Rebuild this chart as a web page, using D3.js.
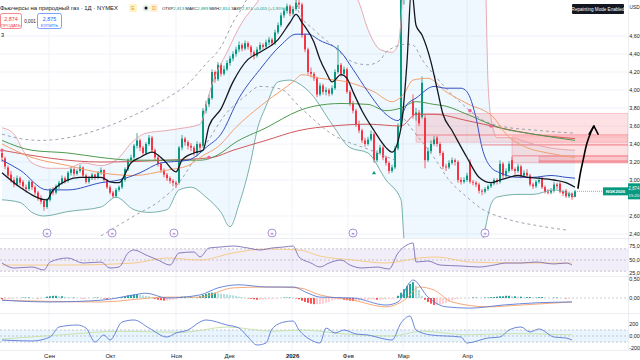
<!DOCTYPE html>
<html><head><meta charset="utf-8">
<script src="https://cdn.jsdelivr.net/npm/d3@7"></script>
<style>body{margin:0;background:#fff;overflow:hidden}svg{display:block;font-family:"Liberation Sans",Arial,sans-serif}</style>
</head><body><svg id="c" width="640" height="360"></svg>
<script>
// ---------- DATA ----------
const open=[3.30,3.24,3.14,3.06,3.00,2.95,3.02,2.98,2.92,2.90,
2.98,2.92,2.86,2.80,2.77,2.70,2.78,2.89,2.86,2.93,
2.97,3.02,2.99,3.08,3.12,3.07,3.10,3.14,3.05,2.98,
3.02,3.06,3.03,3.08,3.11,3.00,2.92,2.86,2.82,2.89,
2.92,3.00,3.12,3.22,3.25,3.38,3.44,3.36,3.30,3.40,
3.47,3.33,3.25,3.18,3.11,3.06,3.02,2.99,2.97,2.97,
3.36,3.46,3.42,3.38,3.36,3.30,3.40,3.38,3.77,3.84,
3.91,4.20,4.12,4.28,4.18,4.23,4.30,4.35,4.40,4.45,
4.50,4.46,4.52,4.48,4.42,4.38,4.45,4.50,4.48,4.53,
4.56,4.52,4.64,4.72,4.83,4.88,4.93,4.85,4.90,4.97,
4.95,4.61,4.45,4.20,4.18,4.13,3.95,4.05,3.98,4.00,
3.96,4.02,4.20,4.28,4.18,4.23,3.98,3.85,3.77,3.62,
3.55,3.44,3.40,3.45,3.51,3.22,3.30,3.36,3.25,3.19,
3.10,3.14,3.35,3.60,5.10,5.40,5.55,3.88,3.72,3.75,
3.70,3.69,3.22,3.32,3.40,3.47,3.40,3.30,3.15,3.14,
3.19,3.22,3.20,3.00,2.98,3.00,3.20,2.98,2.97,2.95,
2.88,2.87,2.90,2.93,2.96,3.00,2.98,3.18,3.05,3.10,
3.22,3.12,3.10,3.15,3.05,3.08,3.05,2.95,2.93,2.98,
3.02,2.92,2.87,2.86,2.88,2.95,2.96,2.87,2.88,2.82,
2.85,2.813];
const high=[3.33,3.26,3.16,3.10,3.03,3.05,3.04,3.00,2.95,3.00,
2.99,2.94,2.88,2.83,2.79,2.80,2.91,2.92,2.95,2.99,
3.05,3.04,3.10,3.15,3.14,3.12,3.17,3.15,3.07,3.04,
3.08,3.07,3.10,3.14,3.12,3.01,2.94,2.88,2.91,2.94,
3.02,3.14,3.24,3.28,3.40,3.52,3.46,3.38,3.42,3.50,
3.49,3.35,3.27,3.20,3.13,3.08,3.04,3.01,2.99,3.38,
3.50,3.48,3.44,3.41,3.38,3.43,3.42,3.80,3.88,3.95,
4.23,4.22,4.31,4.30,4.27,4.33,4.38,4.43,4.48,4.54,
4.52,4.55,4.54,4.50,4.44,4.48,4.53,4.52,4.56,4.59,
4.58,4.67,4.75,4.86,4.91,4.96,4.95,4.93,5.05,5.02,
4.97,4.63,4.47,4.25,4.20,4.15,4.08,4.07,4.03,4.02,
4.05,4.23,4.50,4.30,4.26,4.25,4.00,3.88,3.79,3.66,
3.57,3.47,3.48,3.55,3.53,3.33,3.39,3.38,3.27,3.21,
3.17,3.38,3.63,5.30,5.70,5.90,5.65,3.95,3.80,3.78,
4.15,3.72,3.36,3.44,3.49,3.49,3.42,3.32,3.18,3.22,
3.25,3.24,3.22,3.03,3.03,3.08,3.23,3.00,2.99,2.97,
2.90,2.92,2.95,2.98,3.02,3.02,3.22,3.20,3.13,3.21,
3.26,3.14,3.18,3.17,3.11,3.12,3.07,2.97,3.00,3.03,
3.04,2.94,2.90,2.91,2.98,2.97,2.98,2.89,2.90,2.87,
2.86,2.889];
const low=[3.20,3.12,3.02,2.97,2.92,2.93,2.94,2.90,2.86,2.88,
2.89,2.83,2.77,2.73,2.66,2.68,2.76,2.83,2.84,2.90,
2.95,2.96,2.97,3.05,3.04,3.05,3.08,3.03,2.96,2.96,
3.00,3.00,3.01,3.06,2.98,2.90,2.84,2.80,2.80,2.87,
2.90,2.98,3.10,3.18,3.23,3.35,3.32,3.27,3.28,3.38,
3.30,3.22,3.15,3.08,3.03,2.99,2.96,2.93,2.91,2.95,
3.33,3.38,3.34,3.32,3.27,3.28,3.33,3.36,3.74,3.81,
3.89,4.08,4.10,4.15,4.16,4.21,4.27,4.32,4.37,4.42,
4.43,4.44,4.45,4.38,4.34,4.36,4.43,4.45,4.46,4.50,
4.49,4.50,4.62,4.70,4.80,4.85,4.82,4.83,4.88,4.90,
4.58,4.42,4.17,4.14,4.10,3.92,3.93,3.95,3.94,3.93,
3.94,4.00,4.18,4.15,4.16,3.96,3.82,3.74,3.59,3.52,
3.41,3.37,3.38,3.43,3.19,3.20,3.28,3.22,3.16,3.07,
3.08,3.12,3.33,3.58,4.95,5.30,5.10,3.68,3.66,3.60,
3.68,3.13,3.20,3.30,3.38,3.37,3.27,3.12,3.10,3.12,
3.17,3.16,2.97,2.95,2.96,2.98,2.96,2.94,2.92,2.85,
2.83,2.85,2.88,2.91,2.94,2.95,2.96,3.02,3.03,3.08,
3.10,3.06,3.08,3.02,3.03,3.02,2.93,2.90,2.91,2.96,
2.90,2.85,2.84,2.84,2.86,2.90,2.85,2.82,2.80,2.80,
2.78,2.810];
const close=[3.25,3.15,3.05,3.00,2.95,3.02,2.97,2.93,2.90,2.98,
2.92,2.86,2.80,2.76,2.70,2.78,2.89,2.86,2.93,2.97,
3.02,2.99,3.08,3.12,3.07,3.10,3.14,3.05,2.98,3.02,
3.06,3.03,3.08,3.11,3.00,2.92,2.86,2.82,2.89,2.92,
3.00,3.12,3.22,3.25,3.38,3.44,3.36,3.30,3.40,3.47,
3.33,3.25,3.18,3.11,3.06,3.02,2.99,2.97,2.95,3.36,
3.46,3.42,3.38,3.36,3.30,3.40,3.36,3.77,3.84,3.91,
4.20,4.12,4.28,4.18,4.23,4.30,4.35,4.40,4.45,4.50,
4.46,4.52,4.48,4.42,4.38,4.45,4.50,4.48,4.53,4.56,
4.52,4.64,4.72,4.83,4.88,4.93,4.85,4.90,4.97,4.95,
4.61,4.45,4.20,4.18,4.13,3.95,4.05,3.98,4.00,3.96,
4.02,4.20,4.28,4.18,4.23,3.98,3.85,3.77,3.62,3.55,
3.44,3.40,3.45,3.51,3.22,3.30,3.36,3.25,3.19,3.10,
3.14,3.35,3.60,5.10,5.40,5.60,5.20,3.72,3.75,3.63,
4.08,3.22,3.32,3.40,3.45,3.40,3.30,3.15,3.14,3.19,
3.22,3.20,3.00,2.98,3.00,3.05,2.98,2.97,2.95,2.88,
2.87,2.90,2.93,2.96,3.00,2.98,3.18,3.05,3.10,3.18,
3.12,3.10,3.15,3.05,3.08,3.05,2.95,2.93,2.98,3.00,
2.92,2.87,2.86,2.88,2.95,2.93,2.87,2.85,2.82,2.85,
2.81,2.874];

// indicator lines: [bar index, value]
const maFast=[[0,3.08],[6,2.92],[15,2.78],[17,2.89],[26,3.03],[33,3.03],[36,2.98],[39,2.97],[43,3.19],[46,3.25],[50,3.31],[54,3.22],[58,3.09],[60,3.22],[64,3.30],[67,3.33],[69,3.60],[73,3.79],[77,4.09],[82,4.34],[86,4.42],[92,4.56],[96,4.75],[98,4.84],[100,4.75],[104,4.53],[106,4.34],[108,4.20],[110,4.09],[113,4.17],[115,4.13],[117,3.98],[120,3.77],[124,3.55],[128,3.36],[130,3.31],[133,3.58],[135,4.31],[136.5,5.13],[138,4.72],[140,4.61],[143,4.31],[145,4.02],[147,3.73],[150,3.55],[155,3.25],[159,3.03],[163,2.97],[166,3.00],[169,3.03],[172,3.05],[175,3.03],[179,3.02],[184,3.00],[188,2.97],[191,2.92]];
const ma20=[[0,3.22],[6,3.11],[15,2.89],[22,2.89],[33,2.97],[39,3.00],[46,3.08],[53,3.19],[62,3.22],[66,3.30],[68,3.36],[73,3.51],[79,3.91],[86,4.23],[93,4.50],[98,4.62],[102,4.62],[106,4.55],[113,4.42],[117,4.23],[122,3.98],[128,3.73],[132,3.66],[135,3.84],[138,3.91],[144,4.04],[148,4.02],[153,4.02],[155,3.98],[158,3.69],[160,3.36],[163,3.14],[166,3.08],[172,3.03],[177,3.03],[183,3.05],[188,3.03],[191,3.02]];
const ma50=[[0,3.40],[10,3.25],[22,3.16],[33,3.08],[44,3.05],[55,3.11],[62,3.16],[66,3.25],[73,3.40],[77,3.55],[88,3.87],[97,4.09],[100,4.17],[106,4.13],[115,4.09],[124,3.98],[130,3.87],[134,3.96],[137,4.11],[142,4.13],[148,3.98],[155,3.85],[164,3.69],[168,3.51],[175,3.36],[182,3.30],[191,3.25]];
const ma100=[[0,3.44],[10,3.33],[22,3.30],[33,3.25],[44,3.22],[55,3.22],[66,3.22],[73,3.30],[77,3.40],[88,3.58],[99,3.77],[104,3.82],[113,3.85],[122,3.84],[128,3.77],[133,3.80],[138,3.87],[144,3.84],[148,3.82],[155,3.73],[166,3.58],[177,3.51],[191,3.44]];
const ma200=[[0,3.33],[33,3.20],[55,3.22],[70,3.25],[77,3.33],[88,3.44],[99,3.55],[110,3.60],[122,3.62],[133,3.60],[138,3.73],[144,3.73],[155,3.66],[166,3.58],[177,3.51],[191,3.46]];
const bbUpper=[[0,3.58],[4,3.51],[7,3.33],[10,3.19],[16,3.13],[22,3.13],[27,3.19],[33,3.16],[38,3.22],[44,3.44],[48,3.52],[55,3.55],[59,3.57],[66,3.62],[69,3.95],[70,4.06],[75,4.42],[80,4.75],[85,4.97],[93,5.40],[106,5.45],[116,5.13],[119,4.97],[122,4.67],[126,4.45],[130,4.42],[132,4.50],[133,4.78],[134,5.40],[139,7.2],[153,7.0],[160,6.0],[161,5.5],[162,4.09],[163,3.69],[165,3.47],[169,3.47],[177,3.40],[182,3.36],[191,3.33]];
const bbLower=[[0,2.78],[6,2.75],[10,2.64],[14,2.60],[22,2.65],[33,2.70],[38,2.81],[44,2.67],[49,2.64],[55,2.67],[59,2.89],[63,2.92],[68,2.81],[73,2.64],[76,2.48],[79,2.73],[83,3.22],[85,3.55],[88,3.82],[92,4.09],[96,4.11],[99,4.07],[103,3.96],[110,3.62],[116,3.36],[122,3.30],[128,3.00],[133,2.78],[134,2.34],[136,1.7],[150,1.2],[159,2.13],[161,2.45],[163,2.73],[165,2.81],[172,2.84],[177,2.84],[184,2.89],[188,2.86],[191,2.81]];
const envUp1=[[0,3.51],[6,3.46],[13,3.44],[22,3.47],[33,3.57],[44,3.72],[55,3.91],[62,4.07],[68,4.29],[73,4.48],[77,4.75],[81,4.97],[84,5.19]];
const envUp2=[[98,5.02],[99,4.86],[104,4.67],[110,4.50],[117,4.31],[122,4.28],[126,4.33],[128,4.42],[135,4.51],[137,4.50],[140,4.34],[145,4.13],[150,3.95],[156,3.77],[159,3.69],[166,3.60],[179,3.55],[191,3.52]];
const envLo1=[[33,2.38],[44,2.60],[53,2.78],[59,2.97],[64,3.22],[68,3.40],[74,3.71],[81,3.93],[86,4.04],[93,4.01],[99,3.82],[110,3.51],[123,3.33],[131,3.22]];
const envLo2=[[134,3.68],[137,3.55],[144,3.25],[149,3.00],[155,2.81],[159,2.70],[169,2.56],[179,2.49],[189,2.44]];
// supply zones: [start bar, top price, bottom price]
const zones=[[138,3.74,3.42],[170,3.48,3.19],[179,3.26,3.19]];
const zoneLines=[[138,3.50],[160,3.39],[170,3.27],[179,3.21]];
const crossDots=[[0,3.33],[69,3.25],[156,3.77],[163,3.60]];
const eventIdx=[15,36.7,57.3,90,117,161];
const signalUp=[[124,3.08]];
const arrowPath=[[192,2.91],[192.7,3.06],[193.7,3.22],[195,3.41],[196.3,3.53],[197.3,3.60]];
const arrowHead=[[195.7,3.51],[197.3,3.60],[198.7,3.51]];

// RSI
const rsi=[[0,44.6],[4,35.7],[10,37.5],[14,32.1],[16,46.4],[22,53.6],[27,44.6],[33,46.4],[36,35.7],[39,37.5],[42,62.5],[44,67.9],[48,58.9],[52,50],[56,41],[59,62.5],[64,64.3],[66,55.4],[69,71.4],[73,73.2],[77,75],[82,71.4],[86,67.9],[90,71.4],[94,73.2],[97,75],[99,55.4],[103,44.6],[106,37.5],[109,44.6],[113,50],[116,41],[120,35.7],[125,37.5],[129,33.9],[132,62.5],[135,76.8],[137,80.4],[138,46.4],[142,48.2],[146,41],[153,39.3],[159,37.5],[164,41],[168,44.6],[173,44.6],[178,46.4],[184,42.9],[188,44.6],[190,41]];
const rsiMa=[[0,41],[22,41],[44,44.6],[55,53.6],[66,50],[77,62.5],[88,69.6],[99,67.9],[106,57],[117,50],[128,44.6],[139,53.6],[145,55.4],[156,46.4],[173,44.6],[190,44.6]];
// MACD
const macd=[[0,-0.05],[16,-0.09],[33,-0.05],[44,0.07],[48,0.11],[55,0],[66,0.07],[72,0.23],[79,0.30],[88,0.25],[97,0.25],[102,0.11],[106,0.02],[117,0],[128,-0.16],[132,-0.09],[136,0.36],[137,0.41],[142,0.02],[148,-0.20],[156,-0.23],[167,-0.16],[178,-0.11],[190,-0.09]];
const macdSignal=[[0,-0.05],[33,-0.09],[55,0.02],[66,0.02],[77,0.23],[88,0.25],[99,0.23],[106,0.07],[117,-0.05],[128,-0.20],[135,0],[139,0.25],[144,0.18],[150,-0.09],[162,-0.20],[173,-0.16],[190,-0.09]];
const macdHist=[-0.03,-0.03,-0.02,-0.02,
-0.01,0,0,0.01,0.01,0.01,0,0,-0.01,-0.01,0,
0.03,0.04,0.05,0.05,0.04,0.04,0.03,0.02,
0.01,0.01,0,0,-0.01,-0.01,0,0,0.01,0.01,0,-0.01,-0.02,-0.02,-0.01,0,0.01,0.02,
0.04,0.06,0.07,0.08,0.08,0.07,0.06,0.05,0.04,
0.01,-0.02,-0.04,-0.05,-0.06,-0.06,-0.05,-0.04,-0.03,
0.01,0.03,0.03,0.02,0.02,0.01,0.01,
0.04,0.07,0.09,0.11,0.12,0.12,0.11,0.10,0.09,0.08,0.07,0.06,0.05,
0.03,0.02,0.01,
-0.01,-0.02,-0.03,-0.04,-0.04,-0.03,-0.03,-0.02,-0.02,-0.01,-0.01,
0,0.01,0.01,0.01,0,-0.01,
-0.03,-0.06,-0.09,-0.11,-0.13,-0.14,-0.14,-0.14,-0.13,-0.11,-0.09,
-0.06,-0.04,-0.03,-0.03,-0.04,
-0.05,-0.06,-0.07,-0.07,-0.06,-0.05,-0.04,-0.04,
-0.03,-0.03,-0.04,-0.04,-0.03,-0.03,-0.02,-0.02,-0.01,
0.05,0.12,0.20,0.27,0.32,0.36,0.28,0.18,
0.05,-0.04,-0.09,-0.13,-0.16,-0.16,-0.15,-0.13,-0.11,-0.08,-0.05,
-0.03,-0.02,-0.01,0,0,0,0.01,0.01,0,0,0.01,0.01,0.02,0.02,
0.03,0.04,0.04,0.05,0.05,0.04,0.04,0.03,0.03,0.02,0.02,
0.02,0.01,0.01,0.02,0.02,0.01,0,0,0.01,0.01,0,0,-0.01,-0.01,0,0];
// CCI
const cci=[[0,-67],[10,-83],[16,-17],[19,150],[25,183],[28,133],[31,-100],[34,17],[36,-67],[40,233],[44,267],[49,133],[55,-17],[58,50],[62,100],[66,233],[68,267],[75,183],[79,133],[82,-17],[85,-150],[88,-117],[90,117],[94,233],[97,250],[99,100],[103,-67],[106,-117],[108,133],[111,50],[114,100],[118,33],[122,17],[126,-33],[130,-67],[133,217],[136,333],[138,100],[143,17],[153,-17],[155,-117],[162,-33],[166,-17],[169,100],[173,150],[176,67],[179,117],[184,-17],[188,-33],[190,-67]];
const cciMa=[[0,-50],[20,20],[40,80],[60,60],[75,150],[90,80],[100,100],[115,30],[130,0],[140,80],[155,20],[170,40],[190,20]];

const monthNames=["Сен","Окт","Ноя","Дек","2026","Фев","Мар","Апр"];
const monthIdx=[15.7,36,58,75.7,96.7,115.3,133.7,155];
const priceTicks=[2.4,2.6,3.0,3.2,3.4,3.6,3.8,4.0,4.2,4.4,4.6];
const rsiTicks=[25,50,75];
const macdTicks=[0,0.5];
const cciTicks=[-200,0,200];
const legendParts=[["ОТКР","#131722"],["2,813","#089981"],[" МАКС","#131722"],["2,889","#089981"],[" МИН","#131722"],["2,810","#089981"],[" ЗАКР","#131722"],["2,874","#089981"],[" +0,055 (+1,95%)","#089981"]];

// ---------- LAYOUT ----------
const plotR=628;
const svg=d3.select("#c");
const x=d3.scaleLinear().domain([0,191]).range([2,575]);
const y=d3.scaleLinear().domain([2.4,4.6]).range([234,36]);
const yR=d3.scaleLinear().domain([25,75]).range([274,246]);
const yM=d3.scaleLinear().domain([0,0.5]).range([298,276]);
const yC=d3.scaleLinear().domain([-200,200]).range([348,324]);
const panes={m:[0,238],r:[239,276],d:[277,313],c:[314,350]};
const defs=svg.append("defs");
Object.entries(panes).forEach(([k,[a,b]])=>{
  defs.append("clipPath").attr("id","cl"+k).append("rect").attr("x",0).attr("y",a).attr("width",plotR).attr("height",b-a);
});
const UP="#089981",DN="#f23645";
const comma=s=>s.replace(".",",");
const AX=5.4;

// grid
const grid=svg.append("g");
grid.selectAll("line.v").data(monthIdx).join("line").attr("x1",d=>x(d)).attr("x2",d=>x(d)).attr("y1",0).attr("y2",350).attr("stroke","#f0f3fa");
grid.selectAll("line.h").data(priceTicks).join("line").attr("x1",0).attr("x2",plotR).attr("y1",d=>y(d)).attr("y2",d=>y(d)).attr("stroke","#f0f3fa");
svg.selectAll("line.sep").data([238.5,276.5,313.5,350.5]).join("line").attr("x1",0).attr("x2",640).attr("y1",d=>d).attr("y2",d=>d).attr("stroke","#e0e3eb").attr("stroke-width",0.6);
svg.append("line").attr("x1",plotR+0.5).attr("x2",plotR+0.5).attr("y1",0).attr("y2",350).attr("stroke","#e0e3eb").attr("stroke-width",0.6);

// ---------- MAIN ----------
const gm=svg.append("g").attr("clip-path","url(#clm)");
const lineP=d3.line().x(d=>x(d[0])).y(d=>y(d[1])).curve(d3.curveMonotoneX);
const poly=bbUpper.concat(bbLower.slice().reverse());
gm.append("path").attr("d",d3.line().x(d=>x(d[0])).y(d=>y(d[1])).curve(d3.curveLinearClosed)(poly)).attr("fill","rgba(33,150,243,0.07)");
gm.selectAll("rect.zone").data(zones).join("rect").attr("x",d=>x(d[0])).attr("width",d=>plotR-x(d[0])).attr("y",d=>y(d[1])).attr("height",d=>y(d[2])-y(d[1])).attr("fill","rgba(242,54,69,0.15)").attr("stroke","rgba(242,54,69,0.35)").attr("stroke-width",0.6);
gm.selectAll("line.zl").data(zoneLines).join("line").attr("x1",d=>x(d[0])).attr("x2",plotR).attr("y1",d=>y(d[1])).attr("y2",d=>y(d[1])).attr("stroke","rgba(242,54,69,0.35)").attr("stroke-width",1.6);
const bars=d3.range(close.length);
const col=i=>close[i]>=open[i]?UP:DN;
gm.selectAll("line.wick").data(bars).join("line").attr("x1",i=>x(i)).attr("x2",i=>x(i)).attr("y1",i=>y(high[i])).attr("y2",i=>y(low[i])).attr("stroke",col).attr("stroke-width",0.8);
gm.selectAll("rect.body").data(bars).join("rect").attr("x",i=>x(i)-1).attr("width",2).attr("y",i=>y(Math.max(open[i],close[i]))).attr("height",i=>Math.max(0.8,Math.abs(y(open[i])-y(close[i])))).attr("fill",col);
const mline=(data,color,w,dash)=>gm.append("path").attr("d",lineP(data)).attr("fill","none").attr("stroke",color).attr("stroke-width",w).attr("stroke-dasharray",dash||null);
mline(bbUpper,"#e8a0a8",0.9);
mline(bbLower,"#6aa8a0",0.9);
[envUp1,envUp2,envLo1,envLo2].forEach(d=>mline(d,"#9598a1",0.9,"3,3"));
mline(ma200,"#d0585a",1);
mline(ma100,"#4f9a4f",1);
mline(ma50,"#f3a06e",1);
mline(ma20,"#3550c0",1);
mline(maFast,"#131722",1.3);
gm.selectAll("circle.cd").data(crossDots).join("circle").attr("cx",d=>x(d[0])).attr("cy",d=>y(d[1])).attr("r",1.8).attr("fill","#f06292");
gm.selectAll("path.sig").data(signalUp).join("path").attr("d",d=>`M${x(d[0])},${y(d[1])-2}l2,3.5h-4z`).attr("fill",UP);
const lastY=y(close[close.length-1]);
gm.append("line").attr("x1",x(191)+2).attr("x2",603).attr("y1",lastY).attr("y2",lastY).attr("stroke",UP).attr("stroke-width",0.6).attr("stroke-dasharray","1,1");
gm.append("path").attr("d",d3.line().x(d=>x(d[0])).y(d=>y(d[1])).curve(d3.curveCatmullRom)(arrowPath)).attr("fill","none").attr("stroke","#000").attr("stroke-width",1.6).attr("stroke-linecap","round");
gm.append("path").attr("d",d3.line().x(d=>x(d[0])).y(d=>y(d[1]))(arrowHead)).attr("fill","none").attr("stroke","#000").attr("stroke-width",1.6).attr("stroke-linecap","round").attr("stroke-linejoin","round");
const ev=svg.append("g").selectAll("g").data(eventIdx).join("g").attr("transform",d=>`translate(${x(d)},233)`);
ev.append("circle").attr("r",4).attr("fill","#fff").attr("stroke","#9575cd").attr("stroke-width",0.8);
ev.append("text").attr("y",2).attr("text-anchor","middle").attr("font-size",6).attr("fill","#7e57c2").text("»");

// price axis
const pa=svg.append("g").attr("transform",`translate(${plotR},0)`).call(d3.axisRight(y).tickValues(priceTicks.filter(v=>Math.abs(y(v)-lastY)>9)).tickSize(0).tickPadding(1.2).tickFormat(v=>comma(d3.format(".2f")(v))));
pa.select(".domain").remove();
pa.selectAll("text").attr("font-size",AX).attr("fill","#131722");
svg.append("text").attr("x",629.5).attr("y",9).attr("font-size",4.8).attr("fill","#131722").text("USD");
svg.append("rect").attr("x",603).attr("y",lastY-4).attr("width",25).attr("height",8).attr("fill",UP);
svg.append("text").attr("x",615.5).attr("y",lastY+1.8).attr("text-anchor","middle").attr("font-size",4.4).attr("font-weight","bold").attr("fill","#fff").text("NGK2026");
svg.append("rect").attr("x",628).attr("y",lastY-8).attr("width",12).attr("height",16).attr("fill",UP);
svg.append("text").attr("x",628.6).attr("y",lastY-1).attr("font-size",4.6).attr("textLength",10.8).attr("lengthAdjust","spacingAndGlyphs").attr("fill","#fff").text("2,874");
svg.append("text").attr("x",628.6).attr("y",lastY+6).attr("font-size",4.2).attr("textLength",10.8).attr("lengthAdjust","spacingAndGlyphs").attr("fill","#fff").text("15:20");

// ---------- RSI ----------
const gr=svg.append("g").attr("clip-path","url(#clr)");
gr.append("rect").attr("x",0).attr("width",plotR).attr("y",yR(70)).attr("height",yR(30)-yR(70)).attr("fill","rgba(126,87,194,0.1)");
gr.selectAll("line.rb").data([70,50,30]).join("line").attr("x1",0).attr("x2",plotR).attr("y1",d=>yR(d)).attr("y2",d=>yR(d)).attr("stroke","#9598a1").attr("stroke-width",0.5).attr("stroke-dasharray","2,2");
const lineR=d3.line().x(d=>x(d[0])).y(d=>yR(d[1])).curve(d3.curveMonotoneX);
gr.append("path").attr("d",lineR(rsiMa)).attr("fill","none").attr("stroke","#f5c77e").attr("stroke-width",0.9);
gr.append("path").attr("d",lineR(rsi)).attr("fill","none").attr("stroke","#7e6fb8").attr("stroke-width",0.9);
const ra=svg.append("g").attr("transform",`translate(${plotR},0)`).call(d3.axisRight(yR).tickValues(rsiTicks).tickSize(0).tickPadding(1.2).tickFormat(v=>comma(d3.format(".1f")(v))));
ra.select(".domain").remove();
ra.selectAll("text").attr("font-size",AX).attr("fill","#131722").attr("dy",v=>v===25?"0.1em":"0.32em");

// ---------- MACD ----------
const gd=svg.append("g").attr("clip-path","url(#cld)");
gd.append("line").attr("x1",0).attr("x2",plotR).attr("y1",yM(0)).attr("y2",yM(0)).attr("stroke","#9598a1").attr("stroke-width",0.5).attr("stroke-dasharray","2,2");
const hcol=i=>{const v=macdHist[i],p=i>0?macdHist[i-1]:0;return v>=0?(v>=p?"#26a69a":"#b2dfdb"):(v<p?"#ff5252":"#ffcdd2");};
gd.selectAll("rect.h").data(d3.range(macdHist.length)).join("rect").attr("x",i=>x(i)-1).attr("width",2).attr("y",i=>Math.min(yM(0),yM(macdHist[i]))).attr("height",i=>Math.abs(yM(macdHist[i])-yM(0))).attr("fill",hcol);
const lineM=d3.line().x(d=>x(d[0])).y(d=>yM(d[1])).curve(d3.curveMonotoneX);
gd.append("path").attr("d",lineM(macdSignal)).attr("fill","none").attr("stroke","#f4a06a").attr("stroke-width",0.9);
gd.append("path").attr("d",lineM(macd)).attr("fill","none").attr("stroke","#5b7bd5").attr("stroke-width",0.9);
const da=svg.append("g").attr("transform",`translate(${plotR},0)`).call(d3.axisRight(yM).tickValues(macdTicks).tickSize(0).tickPadding(1.2).tickFormat(v=>comma(d3.format(".2f")(v))));
da.select(".domain").remove();
da.selectAll("text").attr("font-size",AX).attr("fill","#131722").attr("dy",v=>v===0.5?"0.9em":"0.32em");

// ---------- CCI ----------
const gc=svg.append("g").attr("clip-path","url(#clc)");
gc.append("rect").attr("x",0).attr("width",plotR).attr("y",yC(100)).attr("height",yC(-100)-yC(100)).attr("fill","rgba(33,150,243,0.1)");
gc.selectAll("line.cb").data([100,0,-100]).join("line").attr("x1",0).attr("x2",plotR).attr("y1",d=>yC(d)).attr("y2",d=>yC(d)).attr("stroke","#9598a1").attr("stroke-width",0.5).attr("stroke-dasharray","2,2");
const lineC=d3.line().x(d=>x(d[0])).y(d=>yC(d[1])).curve(d3.curveMonotoneX);
gc.append("path").attr("d",lineC(cciMa)).attr("fill","none").attr("stroke","#c5e1a5").attr("stroke-width",0.9);
gc.append("path").attr("d",lineC(cci)).attr("fill","none").attr("stroke","#5b7bd5").attr("stroke-width",0.9);
const ca=svg.append("g").attr("transform",`translate(${plotR},0)`).call(d3.axisRight(yC).tickValues(cciTicks).tickSize(0).tickPadding(1.2).tickFormat(v=>v===0?"0,00":String(v)));
ca.select(".domain").remove();
ca.selectAll("text").attr("font-size",AX).attr("fill","#131722");

// ---------- TIME AXIS ----------
const ta=svg.append("g").attr("transform","translate(0,350)").call(d3.axisBottom(x).tickValues(monthIdx).tickSize(0).tickPadding(3.5).tickFormat((d,i)=>monthNames[i]));
ta.select(".domain").remove();
ta.selectAll("text").attr("font-size",6).attr("fill","#131722").attr("font-weight",(d,i)=>monthNames[i]==="2026"?"bold":"normal");

// ---------- LEGEND ----------
svg.append("text").attr("x",0).attr("y",10).attr("font-size",6.2).attr("textLength",118).attr("lengthAdjust","spacingAndGlyphs").attr("fill","#131722").text("Фьючерсы на природный газ · 1Д · NYMEX");
svg.append("rect").attr("x",129).attr("y",4).attr("width",8).attr("height",8).attr("rx",1.5).attr("fill","#fff3c4");
svg.append("text").attr("x",133).attr("y",10).attr("text-anchor","middle").attr("font-size",5).attr("fill","#e0a800").text("E");
svg.append("circle").attr("cx",146).attr("cy",8).attr("r",3.5).attr("fill","#e3f2e9");
svg.append("circle").attr("cx",146).attr("cy",8).attr("r",1.5).attr("fill","#131722");
svg.append("rect").attr("x",150).attr("y",4).attr("width",8).attr("height",8).attr("rx",1.5).attr("fill","#fff0dc");
svg.append("text").attr("x",154).attr("y",10).attr("text-anchor","middle").attr("font-size",5).attr("fill","#f08c00").text("D");
const ohlc=svg.append("text").attr("x",162).attr("y",10).attr("font-size",4.3);
legendParts.forEach(([t,c])=>ohlc.append("tspan").attr("fill",c).text(t));
svg.append("rect").attr("x",0.5).attr("y",13.5).attr("width",21).attr("height",15).attr("rx",2).attr("fill","#fff").attr("stroke",DN).attr("stroke-width",0.6);
svg.append("text").attr("x",11).attr("y",20.5).attr("text-anchor","middle").attr("font-size",5.4).attr("fill",DN).text("2,874");
svg.append("text").attr("x",11).attr("y",26.5).attr("text-anchor","middle").attr("font-size",4.2).attr("fill",DN).text("ПРОДАТЬ");
svg.append("text").attr("x",30).attr("y",23).attr("text-anchor","middle").attr("font-size",4.6).attr("fill","#131722").text("0,001");
svg.append("rect").attr("x",37.5).attr("y",13.5).attr("width",24).attr("height",15).attr("rx",2).attr("fill","#fff").attr("stroke","#2962ff").attr("stroke-width",0.6);
svg.append("text").attr("x",49.5).attr("y",20.5).attr("text-anchor","middle").attr("font-size",5.4).attr("fill","#2962ff").text("2,875");
svg.append("text").attr("x",49.5).attr("y",26.5).attr("text-anchor","middle").attr("font-size",4.4).attr("fill","#2962ff").text("КУПИТЬ");
svg.append("text").attr("x",1).attr("y",37).attr("font-size",5.6).attr("fill","#131722").text("3");
svg.append("rect").attr("x",572).attr("y",4).attr("width",52).attr("height",10).attr("rx",1).attr("fill","#131722");
svg.append("text").attr("x",598).attr("y",10.6).attr("text-anchor","middle").attr("font-size",4.6).attr("fill","#fff").text("Repainting Mode Enabled");
</script></body></html>
